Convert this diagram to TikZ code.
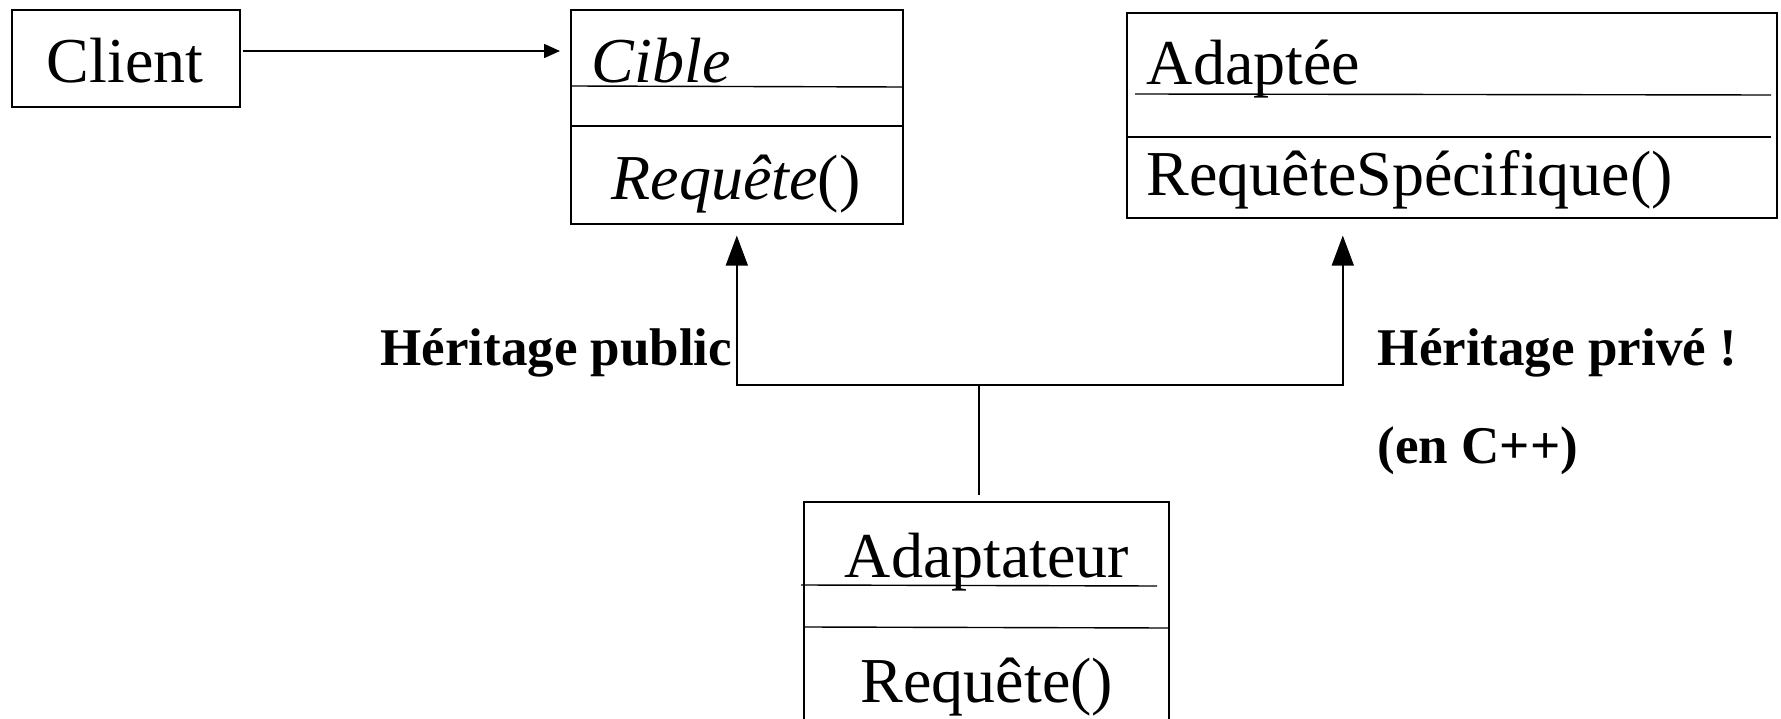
\documentclass[tikz,border=0pt]{standalone}
\usepackage{fontspec}
\setmainfont{Liberation Serif}
\usetikzlibrary{arrows.meta}
\begin{document}
\begin{tikzpicture}[x=1pt,y=-1pt,line width=1.6pt,
  box/.style={draw,rectangle,inner sep=0pt,anchor=north west},
  big/.style={font=\fontsize{64}{70}\selectfont,inner sep=0pt},
  lbl/.style={font=\bfseries\fontsize{53}{60}\selectfont,inner sep=0pt},
  sep/.style={line width=1.4pt},
  inh/.style={-{Triangle[length=30pt,width=22pt]}},
  assoc/.style={-{Triangle[length=16pt,width=14pt]}}]
\useasboundingbox (0,0) rectangle (1781,719);
\clip (0,0) rectangle (1781,719);

% classes
\node[box,minimum width=228pt,minimum height=97pt] (client) at (11,9) {};
\node[big,anchor=base] (clientname) at (125,83) {Client};

\node[box,minimum width=332pt,minimum height=214pt] (cible) at (570,9) {};
\draw[sep] (570,86) -- (902,87);
\draw[sep] (570,126) -- (902,126);
\node[big,anchor=base west] (ciblename) at (591,83) {\itshape Cible};
\node[big,anchor=base] (ciblereq) at (736,200) {\textit{Requête}()};

\node[box,minimum width=650pt,minimum height=205pt] (adaptee) at (1126,12) {};
\draw[sep] (1135,94) -- (1771,95);
\draw[sep] (1128,137) -- (1771,137);
\node[big,anchor=base west] (adapteename) at (1146,85) {Adaptée};
\node[big,anchor=base west] (adapteereq) at (1146,196) {RequêteSpécifique()};

\node[box,minimum width=365pt,minimum height=260pt] (adaptateur) at (803,501) {};
\draw[sep] (801,585) -- (1157,586);
\draw[sep] (805,627) -- (1168,628);
\node[big,anchor=base west] (adaptname) at (844,577) {Adaptateur};
\node[big,anchor=base west] (adaptreq) at (860,702) {Requête()};

% connectors
\coordinate (assocy) at (0,51);
\draw[assoc,shorten <=2pt,shorten >=10pt] (client.east |- assocy) -- (cible.west |- assocy);

\coordinate (junc) at (979,385);
\draw[shorten <=6pt] (junc |- adaptateur.north) -- (junc);
\draw[inh,shorten >=11pt] (junc) -| (cible.south);
\draw[inh,shorten >=17pt] (junc) -| ([xshift=-109pt]adaptee.south);

% labels
\node[lbl,anchor=base east] (pub) at (733,366) {Héritage public};
\node[lbl,anchor=base west] (priv) at (1377,366) {Héritage privé !};
\node[lbl,anchor=base west] (cpp) at (1377,463) {(en C++)};
\end{tikzpicture}
\end{document}
